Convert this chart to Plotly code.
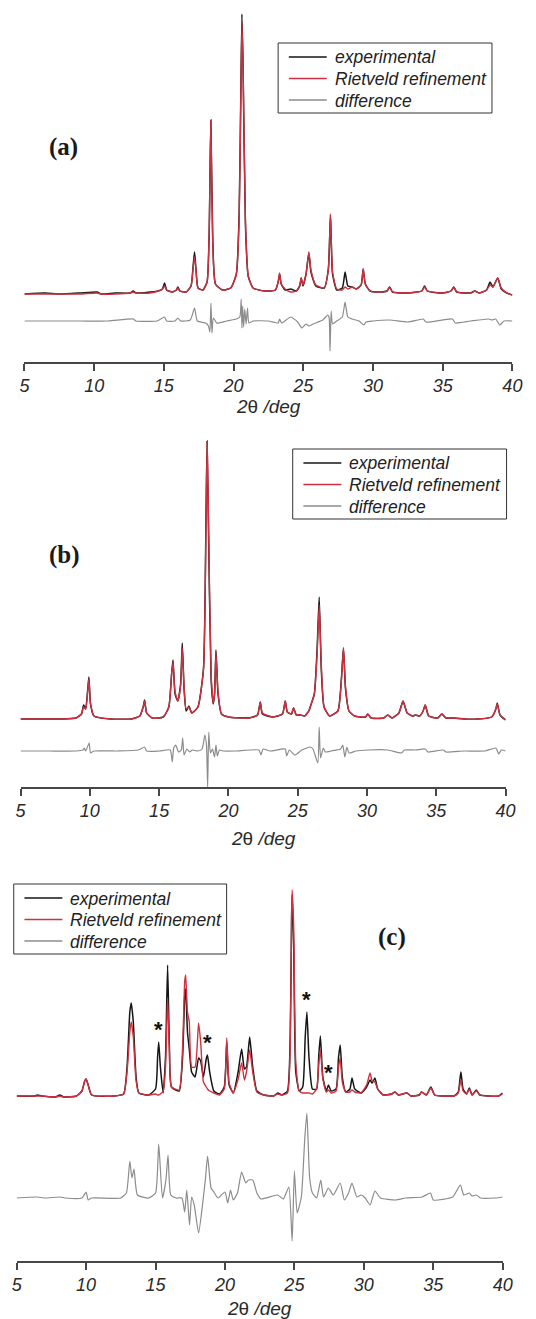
import plotly.graph_objects as go

# ---------------- data (intensity in arbitrary units) -------------
tick_vals = [5, 10, 15, 20, 25, 30, 35, 40]
axis_title = "<i>2</i>θ<i> /deg</i>"
series_names = ["experimental", "Rietveld refinement", "difference"]
panel_labels = ["(a)", "(b)", "(c)"]

# Panel (a)
x_a = [5.0, 6.5, 7.5, 9.0, 10.2, 10.5, 11.5, 12.6, 12.8, 13.0,
       14.0, 14.6, 14.9, 15.05, 15.2, 15.6, 15.9, 16.0, 16.15, 16.6,
       16.95, 17.1, 17.2, 17.3, 17.45, 17.8, 18.1, 18.25, 18.37, 18.5,
       18.7, 19.2, 19.8, 20.2, 20.4, 20.52, 20.6, 20.68, 20.85, 21.05,
       21.4, 22.2, 23.0, 23.2, 23.3, 23.42, 23.7, 24.1, 24.5, 24.75,
       24.85, 24.98, 25.2, 25.4, 25.55, 25.9, 26.5, 26.8, 26.95, 27.1,
       27.4, 27.8, 28.0, 28.2, 28.5, 28.8, 29.15, 29.3, 29.45, 29.8,
       30.5, 31.0, 31.2, 31.4, 32.5, 33.5, 33.7, 33.9, 35.0, 35.6,
       35.8, 36.0, 37.0, 37.3, 37.6, 38.15, 38.4, 38.6, 38.95, 39.2,
       39.6, 40.0]
exp_a = [0, 1, 0, 1, 2, 0, 1, 1, 3, 1,
         2, 3, 5, 11, 4, 2, 4, 7, 3, 2,
         8, 28, 42, 26, 6, 4, 12, 60, 174, 60,
         10, 4, 6, 20, 80, 200, 280, 230, 70, 18,
         6, 3, 4, 12, 20, 10, 4, 5, 3, 8,
         16, 8, 20, 41, 22, 8, 6, 25, 79, 20,
         4, 6, 22, 8, 7, 5, 9, 25, 10, 3,
         2, 3, 7, 2, 1, 3, 8, 3, 1, 3,
         7, 2, 1, 3, 1, 4, 12, 7, 16, 5,
         1, -1]
calc_a = [0, 0, 0, 0, 1, 0, 0, 1, 2, 1,
          1, 3, 5, 8, 4, 2, 4, 6, 3, 2,
          8, 26, 37, 25, 6, 4, 12, 62, 174, 55,
          10, 4, 6, 20, 75, 195, 272, 230, 75, 18,
          6, 3, 4, 12, 21, 10, 5, 2, 3, 9,
          16, 9, 20, 42, 24, 9, 6, 25, 80, 22,
          5, 4, 7, 5, 7, 5, 9, 25, 10, 3,
          2, 3, 7, 2, 1, 3, 7, 3, 1, 3,
          7, 2, 1, 3, 1, 4, 9, 7, 16, 6,
          1, -1]
xd_a = [5, 7, 9, 11, 12.8, 13.0, 14.5, 15.05, 15.2, 15.8,
        16.0, 16.2, 16.9, 17.2, 17.4, 18.0, 18.2, 18.3, 18.38, 18.45,
        18.55, 18.8, 19.5, 20.2, 20.45, 20.55, 20.6, 20.65, 20.72, 20.8,
        20.9, 21.0, 21.1, 21.4, 22.5, 23.2, 23.3, 23.45, 24.1, 24.6,
        24.9, 25.2, 25.4, 25.7, 26.4, 26.75, 26.85, 26.92, 27.0, 27.1,
        27.4, 27.8, 28.0, 28.2, 28.5, 29.0, 29.35, 29.5, 30.0, 31.2,
        32.5, 33.6, 33.8, 35.7, 35.9, 37.0, 38.3, 38.5, 38.8, 39.1,
        39.4, 40.0]
diff_a = [0, 0, 0, 0, 2, 0, 0, 4, 0, 0,
          3, 0, 1, 13, 0, -2, -5, -11, 18, -12,
          3, -2, 0, 2, 4, 22, -7, 15, -6, 12,
          -3, 13, -2, 0, 0, -2, 2, -2, 4, -1,
          -7, -3, -5, -3, 1, 6, 4, -30, 10, -3,
          0, 4, 19, 4, 2, 0, -4, -1, 0, 1,
          -1, 2, -1, 2, -2, 0, 2, 1, 2, -4,
          0, 0]

# Panel (b)
x_b = [5.0, 6.5, 8.0, 9.0, 9.4, 9.55, 9.7, 9.85, 9.93, 10.05,
       10.3, 11.5, 13.0, 13.6, 13.85, 13.95, 14.1, 14.5, 15.3, 15.7,
       15.9, 16.0, 16.15, 16.35, 16.55, 16.67, 16.8, 16.95, 17.15, 17.35,
       17.8, 18.2, 18.38, 18.46, 18.55, 18.75, 18.9, 19.0, 19.1, 19.25,
       19.5, 20.0, 21.5, 22.1, 22.3, 22.45, 23.2, 23.9, 24.1, 24.25,
       24.55, 24.7, 24.9, 25.2, 25.5, 25.8, 25.95, 26.2, 26.4, 26.55,
       26.7, 26.9, 27.3, 27.9, 28.15, 28.3, 28.45, 28.7, 29.1, 29.9,
       30.05, 30.3, 31.2, 31.5, 31.8, 32.3, 32.6, 32.9, 33.3, 33.5,
       33.8, 34.05, 34.2, 34.45, 35.1, 35.4, 35.7, 36.3, 37.0, 38.0,
       39.0, 39.3, 39.4, 39.6, 40.0]
exp_b = [0, 0, 0, 1, 5, 14, 10, 30, 42, 15,
         3, 0, 0, 3, 12, 19, 6, 1, 2, 12,
         45, 59, 25, 18, 35, 76, 30, 8, 13, 6,
         12, 50, 200, 278, 200, 40, 15, 25, 69, 25,
         5, 2, 1, 4, 17, 5, 2, 5, 18, 7,
         5, 11, 4, 4, 3, 8, 14, 25, 70, 122,
         50, 12, 3, 8, 40, 71, 30, 8, 3, 2,
         5, 1, 1, 4, 1, 6, 18, 6, 3, 4,
         3, 8, 14, 3, 1, 5, 1, 1, 0, 0,
         2, 10, 16, 4, -1]
calc_b = [0, 0, 0, 1, 5, 12, 10, 28, 40, 15,
          3, 0, 0, 3, 12, 18, 6, 1, 2, 12,
          45, 57, 27, 18, 33, 71, 32, 10, 12, 6,
          12, 50, 190, 278, 210, 45, 16, 25, 66, 27,
          5, 2, 1, 4, 17, 6, 2, 5, 18, 7,
          5, 11, 4, 4, 3, 8, 14, 25, 65, 114,
          55, 12, 3, 8, 38, 71, 32, 8, 3, 2,
          5, 1, 1, 4, 1, 6, 18, 6, 3, 4,
          3, 8, 14, 3, 1, 5, 1, 1, 0, 0,
          2, 10, 15, 4, -1]
xd_b = [5, 7, 9, 9.5, 9.6, 9.7, 9.95, 10.05, 10.3, 12,
        13.5, 13.95, 14.1, 15, 15.8, 15.95, 16.05, 16.2, 16.4, 16.6,
        16.7, 16.8, 17.0, 17.2, 17.4, 17.8, 18.1, 18.3, 18.42, 18.5,
        18.58, 18.7, 18.85, 19.0, 19.1, 19.2, 19.35, 19.6, 20.5, 22.2,
        22.35, 22.5, 23.0, 24.1, 24.2, 24.4, 24.8, 25.3, 25.9, 26.1,
        26.45, 26.55, 26.65, 26.85, 27.0, 27.4, 28.1, 28.25, 28.4, 28.55,
        28.7, 29.2, 30.1, 31.5, 32.5, 32.7, 33.5, 34.2, 34.4, 35.5,
        35.7, 37.0, 38.5, 39.3, 39.5, 39.7, 40.0]
diff_b = [0, 0, 0, 1, 3, 0, 8, -2, 0, 0,
          1, 4, 0, 0, 1, -11, 3, 6, -1, 1,
          13, -4, 2, -1, 1, 0, 2, 16, 5, -36,
          19, -2, 2, -6, 6, -5, 1, 0, 0, 1,
          -4, 2, 0, 2, -5, 1, -4, 1, 4, 2,
          -12, 24, -7, 3, -1, 0, 2, 6, -6, 4,
          -2, 0, 1, 1, -2, 1, 1, 2, -1, 1,
          -1, 0, 0, 3, -3, 1, 0]

# Panel (c)
x_c = [5.0, 6.3, 6.5, 6.8, 7.8, 8.1, 8.4, 9.3, 9.7, 9.9,
       10.0, 10.15, 10.4, 12.0, 12.7, 12.95, 13.15, 13.25, 13.4, 13.6,
       13.8, 14.5, 15.0, 15.15, 15.23, 15.35, 15.55, 15.72, 15.87, 16.0,
       16.15, 16.7, 16.95, 17.1, 17.17, 17.3, 17.43, 17.6, 17.85, 18.1,
       18.25, 18.45, 18.65, 18.74, 18.9, 19.2, 19.6, 19.95, 20.13, 20.3,
       20.6, 20.95, 21.2, 21.4, 21.55, 21.78, 22.0, 22.3, 22.8, 23.5,
       23.8, 24.1, 24.5, 24.7, 24.8, 24.84, 24.95, 25.1, 25.35, 25.6,
       25.78, 25.9, 26.05, 26.3, 26.6, 26.75, 26.87, 27.05, 27.3, 27.45,
       27.65, 28.0, 28.18, 28.3, 28.45, 28.7, 29.0, 29.15, 29.35, 29.8,
       30.2, 30.45, 30.6, 30.8, 31.0, 31.4, 32.0, 32.25, 32.5, 33.1,
       33.4, 34.0, 34.16, 34.5, 34.83, 35.1, 35.7, 36.2, 36.5, 36.8,
       36.99, 37.15, 37.4, 37.6, 37.8, 38.1, 38.35, 39.0, 39.7, 40.0]
exp_c = [1, 1, 2, 1, 0, 2, 0, 1, 6, 16,
         18, 12, 2, 1, 3, 30, 85, 94, 75, 20,
         4, 2, 8, 40, 55, 30, 4, 40, 132, 50,
         10, 6, 40, 100, 108, 65, 48, 25, 20, 39,
         36, 20, 38, 42, 25, 6, 3, 10, 55, 12,
         4, 25, 48, 28, 30, 60, 30, 6, 2, 1,
         4, 2, 6, 60, 180, 202, 150, 25, 6, 10,
         60, 85, 40, 8, 8, 40, 61, 20, 6, 12,
         6, 8, 40, 52, 20, 5, 8, 19, 8, 4,
         10, 17, 14, 19, 8, 2, 3, 5, 2, 4,
         1, 2, 5, 2, 10, 2, 1, 1, 1, 5,
         25, 8, 3, 9, 2, 7, 2, 1, 1, 4]
calc_c = [1, 1, 1, 1, 0, 1, 0, 1, 6, 16,
          18, 12, 2, 1, 3, 25, 65, 75, 60, 16,
          4, 2, 3, 2, 2, 3, 6, 30, 99, 45,
          10, 7, 50, 115, 122, 85, 75, 30, 30, 74,
          55, 15, 10, 8, 6, 4, 2, 8, 59, 14,
          4, 18, 34, 17, 25, 47, 25, 5, 2, 1,
          3, 2, 4, 50, 185, 207, 170, 35, 6, 4,
          4, 4, 4, 3, 8, 32, 47, 18, 5, 7,
          4, 6, 30, 39, 15, 5, 5, 7, 5, 4,
          12, 24, 16, 15, 8, 2, 3, 5, 2, 4,
          1, 2, 5, 2, 9, 2, 1, 1, 1, 4,
          17, 6, 3, 8, 2, 6, 2, 1, 1, 3]
xd_c = [5.0, 6.5, 7.0, 8.1, 8.5, 9.7, 10.0, 10.15, 10.4, 12.5,
        12.9, 13.15, 13.3, 13.45, 13.7, 14.5, 15.0, 15.23, 15.5, 15.75,
        15.9, 16.1, 16.5, 16.9, 17.1, 17.25, 17.45, 17.6, 17.8, 18.1,
        18.4, 18.6, 18.75, 19.0, 19.2, 19.5, 20.0, 20.2, 20.4, 20.6,
        20.9, 21.2, 21.5, 21.7, 22.0, 22.3, 22.6, 23.8, 24.2, 24.6,
        24.84, 25.0, 25.2, 25.5, 25.75, 25.9, 26.1, 26.3, 26.6, 26.9,
        27.1, 27.45, 27.8, 28.3, 28.6, 28.9, 29.15, 29.5, 29.8, 30.1,
        30.45, 30.8, 31.2, 32.3, 33.0, 34.2, 34.8, 35.0, 36.4, 36.95,
        37.2, 37.6, 37.8, 38.1, 38.4, 39.5, 40.0]
diff_c = [0, 1, 0, 1, 0, 0, 6, -2, 0, 0,
          5, 37, 20, 29, 3, 0, 5, 54, 0, 18,
          43, 3, 0, 0, -14, 8, -27, 1, -8, -35,
          -5, 20, 42, 10, 6, 0, 6, -5, 8, -2,
          5, 26, 15, 18, 18, 5, -1, 3, -1, 11,
          -43, 27, -15, 1, 60, 85, 20, 5, 0, 18,
          1, 10, 3, 15, -2, 5, 15, 1, 3, 0,
          -7, 7, 0, -2, 0, 1, 5, -2, 1, 13,
          3, 5, 2, 3, 0, 0, 1]
# 2-theta positions of the peaks marked with an asterisk in panel (c)
starred_2theta = [15.23, 18.74, 25.9, 27.45]

# ---------------- layout / styling ----------------
W, H = 536, 1319
BLACK, RED, GRAY, AXC = "#151515", "#d0303f", "#8c8c8c", "#474747"
COLORS = [BLACK, RED, GRAY]
WIDTHS = [1.5, 1.4, 1.2]
SANS = "Liberation Sans, Arial, Helvetica, sans-serif"
SERIF = "Liberation Serif, Times New Roman, serif"


def fy(px):
    return 1 - px / H


panels = [
    dict(x=x_a, e=exp_a, c=calc_a, xd=xd_a, d=diff_a, off=-27,
         xpx=(20, 522), ypx=(362, 8), yr=(-68, 286),
         box=(281, 43, 501, 113), lab=(60, 147), title_y=407),
    dict(x=x_b, e=exp_b, c=calc_b, xd=xd_b, d=diff_b, off=-32,
         xpx=(16, 515), ypx=(787, 430), yr=(-68, 289),
         box=(296, 449, 516, 519), lab=(61, 555), title_y=838),
    dict(x=x_c, e=exp_c, c=calc_c, xd=xd_c, d=diff_c, off=-101,
         xpx=(12, 512), ypx=(1261, 880), yr=(-164, 217),
         box=(9, 884, 228, 954), lab=(398, 937), title_y=1308),
]

fig = go.Figure()
annotations = []
shapes = []
layout_extra = {}

for i, p in enumerate(panels):
    n = "" if i == 0 else str(i + 1)
    xa, ya = "x" + n, "y" + n
    ys = [p["e"], p["c"], [v + p["off"] for v in p["d"]]]
    xs = [p["x"], p["x"], p["xd"]]
    for k in range(3):
        fig.add_trace(go.Scatter(
            x=xs[k], y=ys[k], mode="lines", name=series_names[k], showlegend=False,
            line=dict(color=COLORS[k], width=WIDTHS[k], shape="spline", smoothing=0.5),
            xaxis=xa, yaxis=ya))

    layout_extra["xaxis" + n] = dict(
        domain=[p["xpx"][0] / W, p["xpx"][1] / W], range=[5, 40], anchor=ya,
        showgrid=False, zeroline=False, showline=True, linecolor=AXC, linewidth=1.5,
        ticks="outside", ticklen=7, tickwidth=1.5, tickcolor=AXC,
        tickvals=tick_vals, ticktext=[str(v) for v in tick_vals],
        tickfont=dict(family=SANS, size=18, color="#2a2a2a", style="italic"),
    )
    layout_extra["yaxis" + n] = dict(
        domain=[fy(p["ypx"][0]), fy(p["ypx"][1])], range=list(p["yr"]),
        anchor=xa, visible=False, fixedrange=True,
    )

    # legend box (drawn by hand so that its size and spacing match)
    x0, y0, x1, y1 = p["box"]
    shapes.append(dict(type="rect", xref="paper", yref="paper",
                       x0=x0 / W, x1=x1 / W, y0=fy(y1), y1=fy(y0),
                       line=dict(color="#333333", width=1), fillcolor="white", layer="above"))
    rows = [y0 + 14, y0 + 35.5, y0 + 57]
    for k in range(3):
        shapes.append(dict(type="line", xref="paper", yref="paper",
                           x0=(x0 + 11) / W, x1=(x0 + 50) / W, y0=fy(rows[k]), y1=fy(rows[k]),
                           line=dict(color=COLORS[k], width=1.6), layer="above"))
        annotations.append(dict(
            text=series_names[k], xref="paper", yref="paper",
            x=(x0 + 56) / W, y=fy(rows[k] + 0.5), xanchor="left", yanchor="middle",
            showarrow=False, font=dict(family=SANS, size=17.5, color="#222222", style="italic")))

    # axis title
    annotations.append(dict(
        text=axis_title, xref="paper", yref="paper",
        x=(p["xpx"][0] + p["xpx"][1]) / 2 / W, y=fy(p["title_y"]),
        xanchor="center", yanchor="middle", showarrow=False,
        font=dict(family=SANS, size=19, color="#2a2a2a"),
    ))
    # panel label
    annotations.append(dict(
        text="<b>%s</b>" % panel_labels[i], xref="paper", yref="paper",
        x=p["lab"][0] / W, y=fy(p["lab"][1]), xanchor="center", yanchor="middle",
        showarrow=False, font=dict(family=SERIF, size=25, color="#1a1a1a"),
    ))

# asterisks above impurity peaks in panel (c)
for t in starred_2theta:
    k = min(range(len(x_c)), key=lambda j: abs(x_c[j] - t))
    annotations.append(dict(
        text="<b>*</b>", xref="x3", yref="y3", x=t, y=exp_c[k],
        xanchor="center", yanchor="bottom", yshift=-2, showarrow=False,
        font=dict(family=SANS, size=22, color="#111111"),
    ))

fig.update_layout(
    width=W, height=H, margin=dict(l=0, r=0, t=0, b=0),
    paper_bgcolor="white", plot_bgcolor="white",
    showlegend=False, annotations=annotations, shapes=shapes, **layout_extra,
)

fig.write_html("out.html", config={"displayModeBar": False})
